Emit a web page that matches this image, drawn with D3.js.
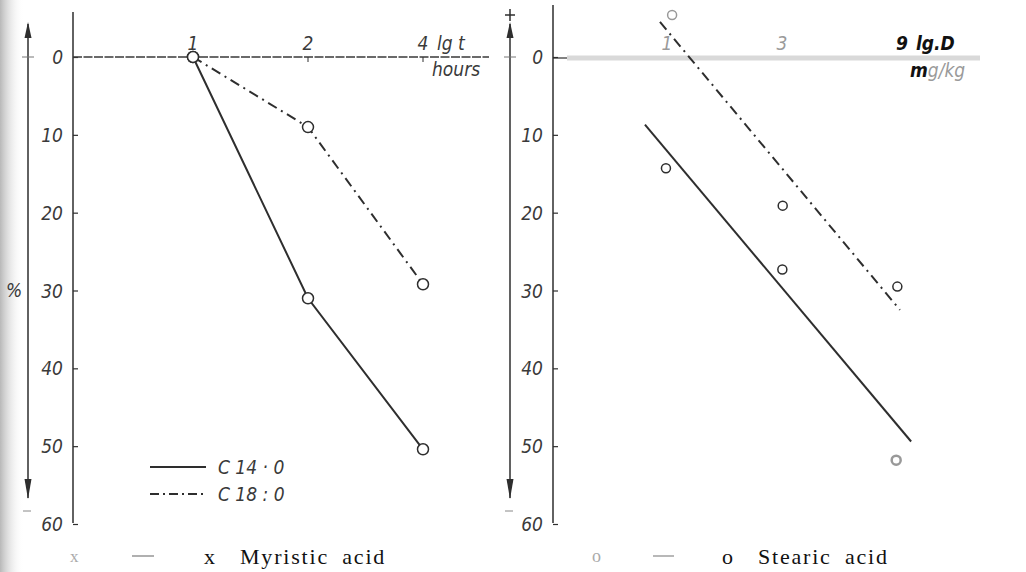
<!DOCTYPE html>
<html>
<head>
<meta charset="utf-8">
<script src="https://cdn.jsdelivr.net/npm/d3@7"></script>
<style>
	body { margin: 0; background: #fff; }
	#chart { width: 1026px; height: 572px; }
	.tick-label { font-family: "Liberation Sans Narrow", "DejaVu Sans Condensed", sans-serif; font-style: italic; font-size: 19px; fill: #3a3a3a; }
	.caption { font-family: "Liberation Serif", "DejaVu Serif", serif; font-size: 22px; letter-spacing: 1.8px; word-spacing: 6px; fill: #111; }
</style>
</head>
<body>
<div id="chart"></div>
<script>
// left panel: loss (%) against lg t (hours)
var hours = [1, 2, 4];
var hourLabels = ["1", "2", "4"];
var myristicC14 = [0, 31, 50.4];
var myristicC18 = [0, 9, 29.2];
var seriesNames = ["C 14 · 0", "C 18 : 0"];

// right panel: loss (%) against lg D (mg/kg)
var doses = [1, 3, 9];
var doseLabels = ["1", "3", "9"];
var stearicDose = [1.05, 0.99, 3.02, 3.01, 9.03, 8.93];
var stearicLoss = [-5.4, 14.3, 19.1, 27.3, 29.5, 51.8];
var stearicFitSolidDose = [0.81, 10.3];
var stearicFitSolidLoss = [8.7, 49.4];
var stearicFitDashDose = [0.935, 9.26];
var stearicFitDashLoss = [-4.5, 32.5];

var lossTicks = [0, 10, 20, 30, 40, 50, 60];

const width = 1026, height = 572;
const ink = "#2e2e2e";
const dashDot = "10,5,2,5";

const svg = d3.select("#chart").append("svg")
	.attr("width", width)
	.attr("height", height);

// shaded left edge of the scanned page
const grad = svg.append("defs").append("linearGradient")
	.attr("id", "edge").attr("x1", 0).attr("x2", 1);
grad.append("stop").attr("offset", 0).attr("stop-color", "#b8b8b8");
grad.append("stop").attr("offset", 1).attr("stop-color", "#fff").attr("stop-opacity", 0);
svg.append("rect").attr("x", 0).attr("y", 0).attr("width", 24).attr("height", height).attr("fill", "url(#edge)");

const y = d3.scaleLinear().domain([0, 60]).range([57, 524]);

function drawSideArrow(x0, showPlus) {
	const g = svg.append("g").attr("stroke", ink).attr("fill", ink);
	g.append("line").attr("x1", x0).attr("x2", x0).attr("y1", 24).attr("y2", 498).attr("stroke-width", 1.5);
	g.append("path").attr("d", `M${x0},22 L${x0 - 3.5},38 L${x0 + 3.5},38 Z`).attr("stroke", "none");
	g.append("path").attr("d", `M${x0},499 L${x0 - 3.5},479 L${x0 + 3.5},479 Z`).attr("stroke", "none");
	g.append("line").attr("x1", x0 - 6).attr("x2", x0 + 6).attr("y1", y(0)).attr("y2", y(0)).attr("stroke-width", 1).attr("stroke", "#777");
	g.append("line").attr("x1", x0 - 5).attr("x2", x0 + 3).attr("y1", 511).attr("y2", 511).attr("stroke-width", 1).attr("stroke", "#888");
	if (showPlus) {
		g.append("line").attr("x1", x0 - 5).attr("x2", x0 + 5).attr("y1", 15).attr("y2", 15).attr("stroke-width", 1.5);
		g.append("line").attr("x1", x0).attr("x2", x0).attr("y1", 9).attr("y2", 21).attr("stroke-width", 1.5);
	}
}

function drawLossAxis(axisX, top) {
	svg.append("line")
		.attr("x1", axisX).attr("x2", axisX)
		.attr("y1", top).attr("y2", y(60) - 1)
		.attr("stroke", ink).attr("stroke-width", 1.5);

	const axis = svg.append("g")
		.attr("transform", "translate(" + axisX + ",0)")
		.call(d3.axisLeft(y).tickValues(lossTicks).tickSizeInner(-5).tickSizeOuter(0).tickPadding(10));
	axis.select(".domain").remove();
	axis.selectAll(".tick line").attr("stroke", ink).attr("stroke-width", 1.2);
	axis.selectAll(".tick text")
		.attr("class", "tick-label")
		.attr("font-family", null).attr("font-size", null)
		.attr("dy", "0.35em");
}

function createTimeChart() {
	const x = d3.scaleLog().domain([1, 4]).range([193, 423]);

	drawSideArrow(28, false);
	drawLossAxis(73, 12);

	svg.append("text").attr("class", "tick-label").attr("x", 6).attr("y", 297).text("%");

	// zero line doubles as the time axis
	svg.append("line")
		.attr("x1", 73).attr("x2", 489)
		.attr("y1", y(0)).attr("y2", y(0))
		.attr("stroke", "#3a3a3a").attr("stroke-width", 1.3)
		.attr("stroke-dasharray", "9,1.5");

	svg.selectAll(".hour-tick")
		.data(hours)
		.enter().append("line")
		.attr("x1", d => x(d)).attr("x2", d => x(d))
		.attr("y1", y(0)).attr("y2", y(0) + 5)
		.attr("stroke", ink).attr("stroke-width", 1);

	svg.selectAll(".hour-label")
		.data(hours)
		.enter().append("text")
		.attr("class", "tick-label")
		.attr("x", d => x(d))
		.attr("y", 50)
		.attr("text-anchor", "middle")
		.text((d, i) => hourLabels[i]);

	svg.append("text").attr("class", "tick-label").attr("x", 437).attr("y", 50).text("lg t");
	svg.append("text").attr("class", "tick-label").attr("x", 432).attr("y", 76).text("hours");

	const line = d3.line()
		.x(d => x(d[0]))
		.y(d => y(d[1]));

	const c14 = d3.zip(hours, myristicC14);
	const c18 = d3.zip(hours, myristicC18);

	svg.append("path")
		.data([c14])
		.attr("d", line)
		.style("fill", "none")
		.style("stroke", ink)
		.style("stroke-width", "2px");

	svg.append("path")
		.data([c18])
		.attr("d", line)
		.style("fill", "none")
		.style("stroke", ink)
		.style("stroke-width", "2px")
		.style("stroke-dasharray", dashDot);

	svg.selectAll(".time-point")
		.data(c14.concat(c18))
		.enter().append("circle")
		.attr("cx", d => x(d[0]))
		.attr("cy", d => y(d[1]))
		.attr("r", 5.5)
		.attr("fill", "#fff")
		.attr("stroke", ink)
		.attr("stroke-width", 1.5);

	// legend
	const legend = svg.append("g").attr("transform", "translate(150,467)");
	seriesNames.forEach((name, i) => {
		legend.append("line")
			.attr("x1", 0).attr("x2", 56)
			.attr("y1", i * 27).attr("y2", i * 27)
			.attr("stroke", ink).attr("stroke-width", 2)
			.attr("stroke-dasharray", i === 1 ? "9,4,2,4" : null);
		legend.append("text")
			.attr("class", "tick-label")
			.attr("x", 68).attr("y", i * 27 + 7)
			.text(name);
	});

	// caption
	svg.append("text").attr("x", 70).attr("y", 562).attr("font-family", "Liberation Serif").attr("font-size", 17).attr("fill", "#aaa").text("x");
	svg.append("line").attr("x1", 132).attr("x2", 154).attr("y1", 556).attr("y2", 556).attr("stroke", "#b0b0b0").attr("stroke-width", 2);
	svg.append("text").attr("class", "caption").attr("x", 204).attr("y", 564).text("x");
	svg.append("text").attr("class", "caption").attr("x", 240).attr("y", 564).text("Myristic acid");
}

function createDoseChart() {
	const x = d3.scaleLog().base(3).domain([1, 9]).range([667, 897]);

	drawSideArrow(510, true);
	drawLossAxis(553, 5);

	// zero line, faded light grey in the scan
	svg.append("line")
		.attr("x1", 553).attr("x2", 567)
		.attr("y1", y(0) + 1).attr("y2", y(0) + 1)
		.attr("stroke", ink).attr("stroke-width", 1.2);
	svg.append("line")
		.attr("x1", 567).attr("x2", 980)
		.attr("y1", y(0) + 1).attr("y2", y(0) + 1)
		.attr("stroke", "#d9d9d9").attr("stroke-width", 5);

	svg.selectAll(".dose-label")
		.data(doses)
		.enter().append("text")
		.attr("class", "tick-label")
		.attr("x", (d, i) => x(d) + (i === 2 ? 5 : 0))
		.attr("y", 50)
		.attr("text-anchor", "middle")
		.style("fill", (d, i) => i === 2 ? "#111" : "#9a9a9a")
		.style("font-weight", (d, i) => i === 2 ? "bold" : null)
		.text((d, i) => doseLabels[i]);

	svg.append("text").attr("class", "tick-label").attr("x", 916).attr("y", 50)
		.style("fill", "#111").style("font-weight", "bold").text("lg.D");
	const unit = svg.append("text").attr("class", "tick-label").attr("x", 910).attr("y", 77);
	unit.append("tspan").style("fill", "#111").style("font-weight", "bold").text("m");
	unit.append("tspan").style("fill", "#9a9a9a").text("g/kg");

	const line = d3.line()
		.x(d => x(d[0]))
		.y(d => y(d[1]));

	svg.append("path")
		.data([d3.zip(stearicFitSolidDose, stearicFitSolidLoss)])
		.attr("d", line)
		.style("fill", "none")
		.style("stroke", ink)
		.style("stroke-width", "2px");

	svg.append("path")
		.data([d3.zip(stearicFitDashDose, stearicFitDashLoss)])
		.attr("d", line)
		.style("fill", "none")
		.style("stroke", ink)
		.style("stroke-width", "2px")
		.style("stroke-dasharray", dashDot);

	svg.selectAll(".dose-point")
		.data(d3.zip(stearicDose, stearicLoss))
		.enter().append("circle")
		.attr("cx", d => x(d[0]))
		.attr("cy", d => y(d[1]))
		.attr("r", 4.5)
		.attr("fill", "#fff")
		.attr("stroke", (d, i) => (i === 0 || i === 5) ? "#999" : ink)
		.attr("stroke-width", (d, i) => i === 5 ? 2.5 : 1.5);

	// caption
	svg.append("text").attr("x", 592).attr("y", 562).attr("font-family", "Liberation Serif").attr("font-size", 18).attr("fill", "#aaa").text("o");
	svg.append("line").attr("x1", 653).attr("x2", 674).attr("y1", 556).attr("y2", 556).attr("stroke", "#b8b8b8").attr("stroke-width", 2);
	svg.append("text").attr("class", "caption").attr("x", 722).attr("y", 564).text("o");
	svg.append("text").attr("class", "caption").attr("x", 758).attr("y", 564).text("Stearic acid");
}

createTimeChart();
createDoseChart();
</script>
</body>
</html>
